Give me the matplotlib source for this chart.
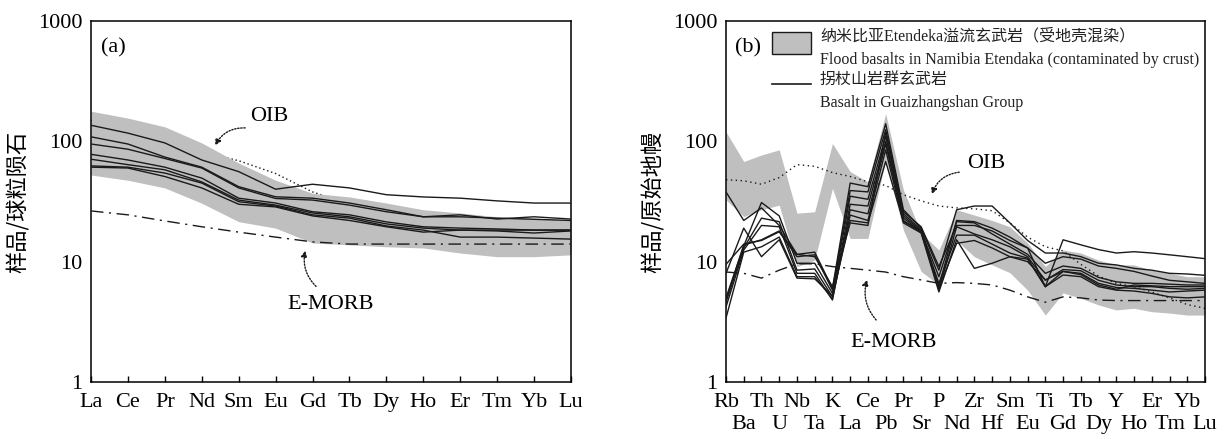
import numpy as np
import matplotlib.pyplot as plt
from matplotlib.patches import Rectangle

plt.rcParams['font.family'] = ['Liberation Serif', 'Noto Sans CJK SC']

# ---- (a) chondrite-normalised REE ----
ree = ['La', 'Ce', 'Pr', 'Nd', 'Sm', 'Eu', 'Gd', 'Tb', 'Dy', 'Ho', 'Er', 'Tm', 'Yb', 'Lu']
ree_band_top = [178, 156, 132, 97, 66, 47.5, 37, 34.5, 30.7, 27, 25.4, 23.6, 23, 22]
ree_band_bot = [52.5, 47.5, 41, 30.6, 21.5, 19, 14.3, 13.8, 13.3, 13, 11.8, 11, 11, 11.4]
ree_oib = [150, 125, 105, 82, 69, 54, 38, 30, 23, 19.5, 16.5, 14.5, 13.5, 12.5]
ree_emorb = [26.4, 24.5, 21.8, 19.5, 17.6, 16.0, 14.6, 14.0, 14.0, 14.0, 14.0, 14.0, 14.0, 14.0]
ree_samples = [
    [136, 117, 97, 70, 56, 40, 44, 41, 36, 34.5, 33.7, 32, 30.7, 30.7],
    [109, 95, 74, 61, 42, 34.6, 33.7, 30.7, 27, 23.6, 24.5, 22.6, 23.6, 22.6],
    [95, 86, 72, 60, 41, 33.5, 32.5, 29.5, 26, 23.6, 23.6, 23, 22.5, 22],
    [78, 70, 61, 49.5, 33.7, 30.7, 26, 24.5, 21.4, 19.5, 19, 18.7, 18.3, 18.3],
    [71, 64, 58, 46, 32.5, 29.5, 25.4, 23.6, 20.6, 19, 18.3, 18, 17.3, 18],
    [62.5, 61, 54.5, 45, 31.5, 29, 24.5, 23, 19.8, 18.3, 16, 16, 15.7, 15.4],
    [61, 60, 51, 41, 30, 28.5, 24, 22, 19.5, 17.6, 18.3, 18.3, 18.3, 18.3],
]

# ---- (b) primitive-mantle-normalised spider ----
spider = ['Rb', 'Ba', 'Th', 'U', 'Nb', 'Ta', 'K', 'La', 'Ce', 'Pb', 'Pr', 'Sr', 'P', 'Nd',
          'Zr', 'Hf', 'Sm', 'Eu', 'Ti', 'Gd', 'Tb', 'Dy', 'Y', 'Ho', 'Er', 'Tm', 'Yb', 'Lu']
sp_band_top = [120, 68, 77, 85, 25.3, 26, 96, 56, 46, 170, 39.5, 17.3, 12.5, 27, 24.4, 22, 19.5,
               14.3, 9.1, 12.5, 11.8, 10.3, 9.4, 9.4, 8.5, 8, 7.5, 7.5]
sp_band_bot = [32.6, 23.7, 27, 29.5, 9.1, 10.3, 40.7, 15.6, 15.6, 70, 18.3, 8.3, 6.4, 15, 11, 9.4,
               8.1, 5.8, 3.6, 5.5, 4.96, 4.37, 3.97, 4.1, 3.84, 3.74, 3.6, 3.6]
sp_oib = [48, 47, 44, 50, 64, 62, 55, 51, 46, 43, 36, 32, 29, 28, 27.5, 26.5, 21, 16, 13.3,
          12.3, 9.5, 7.6, 6.6, 6.2, 5.6, 5.0, 4.4, 4.1]
sp_emorb = [8.2, 8.0, 7.3, 8.5, 9.6, 9.6, 9.1, 8.8, 8.5, 8.2, 7.5, 7.05, 6.6, 6.7, 6.6, 6.4, 5.8,
            5.1, 4.6, 5.1, 5.0, 4.8, 4.75, 4.75, 4.75, 4.75, 4.75, 4.75]
sp_samples = [
    [38, 22, 28, 20, 11.5, 12, 6.0, 45, 42, 140, 27, 19, 8.5, 27, 29, 29, 21, 15, 11.8, 11.8, 11,
     9.7, 9.4, 8.8, 8.5, 8.0, 7.9, 7.7],
    [9.5, 14, 15, 17.7, 11, 11.4, 5.8, 39, 38, 125, 25, 18.5, 6.2, 22, 21.5, 19, 16, 13, 6.2, 15.2,
     13.8, 12.6, 11.8, 12.1, 11.8, 11.4, 11, 10.6],
    [5, 13.5, 31, 24, 9.7, 9.7, 5.45, 35, 33, 110, 24, 18, 7.5, 21.5, 21, 17, 14, 11.5, 8, 9.2,
     8.8, 7.4, 6.8, 6.6, 6.6, 6.5, 6.4, 6.4],
    [4.6, 13, 23, 21.5, 8.5, 8.7, 5.1, 30, 29, 100, 23, 17.7, 5.8, 19.5, 17, 15.2, 13.3, 11, 7,
     8.6, 8.4, 7, 6.4, 6.2, 6.2, 6.0, 5.9, 6.0],
    [4.2, 12.5, 20, 19.5, 8, 8, 4.8, 27, 25, 95, 22, 17.5, 6.6, 16.6, 16.6, 14, 11.8, 10.7, 6.2,
     8.3, 8, 6.6, 6.1, 6, 5.8, 5.6, 5.7, 5.8],
    [3.4, 12, 13.3, 16, 7.5, 7.5, 4.9, 24.4, 22, 85, 21, 17.3, 5.6, 15.2, 8.8, 9.7, 11, 10.5, 6.2,
     7.75, 7.5, 6.2, 5.8, 5.7, 5.45, 5.1, 5.0, 5.1],
    [8, 19, 11, 15.2, 7.3, 7.2, 5.2, 22, 21, 68, 21.5, 18, 6.0, 14.2, 15, 13, 11, 10, 7.05, 8.3,
     7.8, 6.4, 5.9, 6.4, 6.3, 6.2, 6.2, 6.2],
    [4.8, 13.8, 15.2, 18, 11.5, 11, 6.2, 21, 20, 120, 26, 19.5, 9.1, 20, 20, 18, 15, 13, 9.7, 11,
     10.5, 9.2, 8.8, 8.3, 7.6, 7.0, 6.8, 6.6],
]

band_color = '#bfbfbf'
line_color = '#1a1a1a'

fig = plt.figure(figsize=(12.26, 4.36), dpi=100)
ax1 = fig.add_axes([91 / 1226, 54 / 436, 480 / 1226, 361 / 436])
ax2 = fig.add_axes([726 / 1226, 54 / 436, 479 / 1226, 361 / 436])


def setup(ax, n):
    ax.set_yscale('log')
    ax.set_ylim(1, 1000)
    ax.set_xlim(0, n - 1)
    ax.set_yticks([1, 10, 100, 1000], ['1', '10', '100', '1000'])
    ax.yaxis.set_minor_locator(plt.NullLocator())
    ax.tick_params(axis='y', length=0, pad=6, labelsize=16)
    ax.tick_params(axis='x', which='both', direction='in', length=4, width=1, labelsize=16)
    for s in ax.spines.values():
        s.set_linewidth(1.1)


# (a)
x1 = np.arange(len(ree))
setup(ax1, len(ree))
ax1.plot(x1, ree_oib, color=line_color, lw=1.0, ls=(0, (1, 2)), zorder=1)
ax1.fill_between(x1, ree_band_bot, ree_band_top, color=band_color, lw=0, zorder=2)
ax1.plot(x1, ree_emorb, color=line_color, lw=1.0, ls=(0, (9, 4, 1.5, 4)), zorder=3)
for s in ree_samples:
    ax1.plot(x1, s, color=line_color, lw=1.0, zorder=4)
ax1.set_xticks(x1, ree)
ax1.tick_params(axis='x', pad=8)
ax1.set_ylabel('样品/球粒陨石', family=['Noto Sans CJK SC'], fontsize=16)
ax1.yaxis.set_label_coords(-0.127, 0.5)
ax1.text(0.27, 597, '(a)', fontsize=16, va='center')
ax1.text(4.31, 160, 'OIB', fontsize=16, va='center')
ax1.annotate('', xy=(3.33, 88), xytext=(4.25, 129),
             arrowprops=dict(arrowstyle='-|>', ls=(0, (1, 1.2)), lw=1, color=line_color,
                             mutation_scale=9, connectionstyle='arc3,rad=0.35'))
ax1.text(5.31, 4.37, 'E-MORB', fontsize=16, va='center')
ax1.annotate('', xy=(5.82, 13.0), xytext=(6.15, 6.0),
             arrowprops=dict(arrowstyle='-|>', ls=(0, (1, 1.2)), lw=1, color=line_color,
                             mutation_scale=9, connectionstyle='arc3,rad=-0.3'))

# (b)
x2 = np.arange(len(spider))
setup(ax2, len(spider))
ax2.fill_between(x2, sp_band_bot, sp_band_top, color=band_color, lw=0, zorder=1)
ax2.plot(x2, sp_oib, color=line_color, lw=1.0, ls=(0, (1, 2.5)), zorder=2)
ax2.plot(x2, sp_emorb, color=line_color, lw=1.0, ls=(0, (9, 4, 1.5, 4)), zorder=2)
for s in sp_samples:
    ax2.plot(x2, s, color=line_color, lw=1.0, zorder=3)
ax2.set_xticks(x2[::2], spider[::2])
ax2.set_xticks(x2[1::2], spider[1::2], minor=True)
ax2.tick_params(axis='x', which='major', pad=8)
ax2.tick_params(axis='x', which='minor', pad=24)
ax2.set_ylabel('样品/原始地幔', family=['Noto Sans CJK SC'], fontsize=16)
ax2.yaxis.set_label_coords(-0.127, 0.5)
ax2.text(0.5, 597, '(b)', fontsize=16, va='center')
ax2.text(13.6, 66, 'OIB', fontsize=16, va='center')
ax2.annotate('', xy=(11.56, 34.5), xytext=(13.3, 55.7),
             arrowprops=dict(arrowstyle='-|>', ls=(0, (1, 1.2)), lw=1, color=line_color,
                             mutation_scale=9, connectionstyle='arc3,rad=0.35'))
ax2.text(7.0, 2.11, 'E-MORB', fontsize=16, va='center')
ax2.annotate('', xy=(8.0, 7.46), xytext=(8.57, 3.15),
             arrowprops=dict(arrowstyle='-|>', ls=(0, (1, 1.2)), lw=1, color=line_color,
                             mutation_scale=9, connectionstyle='arc3,rad=-0.3'))

# legend drawn by hand
ax2.add_patch(Rectangle((0.096, 0.909), 0.081, 0.061, transform=ax2.transAxes,
                        facecolor=band_color, edgecolor=line_color, lw=1, zorder=5))
ax2.plot([0.096, 0.177], [0.825, 0.825], transform=ax2.transAxes, color=line_color, lw=1.2)
leg_kw = dict(transform=ax2.transAxes, fontsize=11.5, va='center', color='#222222')
ax2.text(0.196, 0.956, '纳米比亚Etendeka溢流玄武岩（受地壳混染）', **leg_kw)
ax2.text(0.196, 0.892, 'Flood basalts in Namibia Etendaka (contaminated by crust)', **leg_kw)
ax2.text(0.196, 0.837, '拐杖山岩群玄武岩', **leg_kw)
ax2.text(0.196, 0.773, 'Basalt in Guaizhangshan Group', **leg_kw)

fig.savefig('out.png', dpi=100)
